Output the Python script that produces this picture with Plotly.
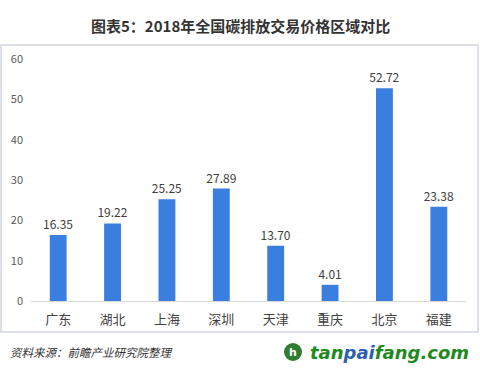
import plotly.graph_objects as go

categories = ["广东", "湖北", "上海", "深圳", "天津", "重庆", "北京", "福建"]
prices = [16.35, 19.22, 25.25, 27.89, 13.70, 4.01, 52.72, 23.38]
y_ticks = [0, 10, 20, 30, 40, 50, 60]
title_text = "图表5：2018年全国碳排放交易价格区域对比"
source_text = "资料来源：前瞻产业研究院整理"

FONT = "Noto Sans CJK SC"

fig = go.Figure()
fig.add_trace(go.Bar(
    x=categories, y=prices,
    marker=dict(color="#3a7ee0", line=dict(width=0)),
    text=[f"{v:.2f}" for v in prices],
    textposition="outside",
    constraintext="none",
    textfont=dict(family=FONT, size=12, color="#404040"),
    cliponaxis=False,
    hoverinfo="skip",
))

fig.update_layout(
    width=480, height=372,
    margin=dict(l=31, r=14, t=59, b=71),
    paper_bgcolor="white", plot_bgcolor="white",
    showlegend=False,
    bargap=0.69,
    font=dict(family=FONT),
    xaxis=dict(
        type="category", showgrid=False, zeroline=False,
        showline=True, linecolor="#d9d9d9", linewidth=1,
        ticks="", tickfont=dict(family=FONT, size=13, color="#404040"),
        ticklabelstandoff=6,
    ),
    yaxis=dict(
        range=[0, 60], tickvals=y_ticks, showgrid=False, zeroline=False,
        showline=False, ticks="",
        tickfont=dict(family=FONT, size=11, color="#595959"),
        ticklabelstandoff=7,
    ),
    shapes=[
        dict(type="rect", xref="paper", yref="paper",
             x0=-30/435, x1=(478-31)/435, y0=-(332-301)/242, y1=(301-45)/242,
             line=dict(color="#dde0e6", width=2), fillcolor="rgba(0,0,0,0)", layer="below"),
        dict(type="circle", xref="paper", yref="paper",
             x0=(284-31)/435, x1=(302-31)/435, y0=-(361-301)/242, y1=-(343-301)/242,
             line=dict(width=0), fillcolor="#2f7d32"),
    ],
    annotations=[
        dict(text=f"<b>{title_text}</b>", xref="paper", yref="paper",
             x=(240-31)/435, y=(301-25)/242, xanchor="center", yanchor="middle",
             showarrow=False, font=dict(family=FONT, size=15, color="#333333")),
        dict(text=f"<i>{source_text}</i>", xref="paper", yref="paper",
             x=-23/435, y=-(352-301)/242, xanchor="left", yanchor="middle",
             showarrow=False, font=dict(family=FONT, size=11.5, color="#333333")),
        dict(text="<b><i><span style='color:#1e8a1e'>tan</span><span style='color:#2b5fb0'>pai</span><span style='color:#1e8a1e'>fang.com</span></i></b>",
             xref="paper", yref="paper",
             x=(471-31)/435, y=-(352-301)/242, xanchor="right", yanchor="middle",
             showarrow=False, font=dict(family="DejaVu Sans", size=18, color="#1e8a1e")),
        dict(text="<b>h</b>", xref="paper", yref="paper",
             x=(293-31)/435, y=-(352-301)/242, xanchor="center", yanchor="middle",
             showarrow=False, font=dict(family="DejaVu Sans", size=11, color="white")),
    ],
)

fig.write_html("out.html", config={"displayModeBar": False},
               post_script="document.body.style.margin='0';")
